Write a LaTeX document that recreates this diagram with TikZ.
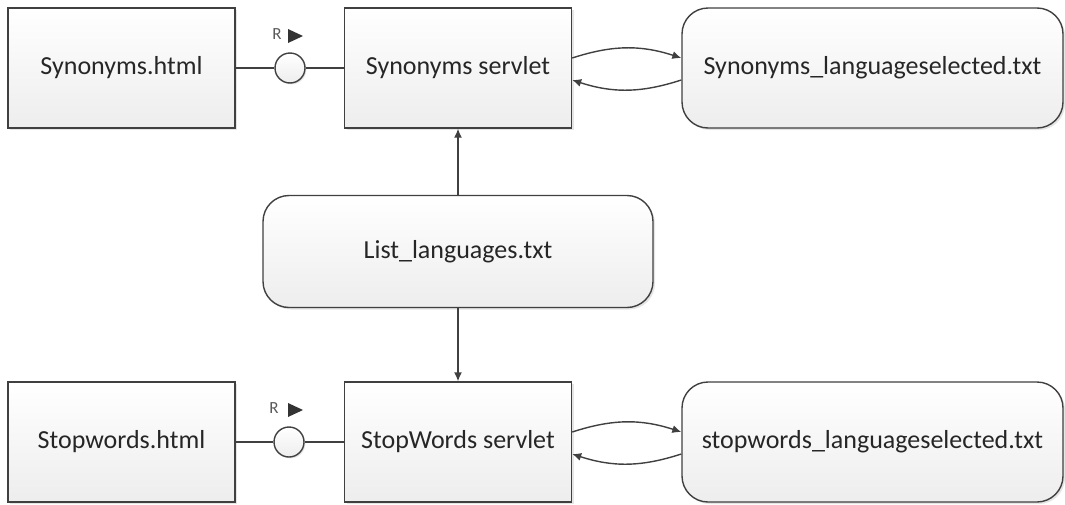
\documentclass[tikz,border=0pt]{standalone}
\usepackage{fontspec}
\setmainfont{Carlito}
\usetikzlibrary{positioning,arrows.meta,shadows}

\begin{document}
\begin{tikzpicture}[x=0.5pt,y=-0.5pt,
  >={Latex[length=4.5pt,width=4pt]},
  every node/.style={font=\fontsize{13}{15}\selectfont,text=black!85},
  box/.style={draw=black!75,line width=0.7pt,top color=white,bottom color=black!7,
    minimum width=113.5pt,minimum height=60pt,
    drop shadow={shadow xshift=1pt,shadow yshift=-1pt,opacity=0.25,fill=black!40}},
  store/.style={box,rounded corners=13pt,minimum width=190.5pt},
  iface/.style={circle,draw=black!75,line width=0.7pt,top color=white,bottom color=black!7,
    minimum size=15pt,inner sep=0pt,
    drop shadow={shadow xshift=0.7pt,shadow yshift=-0.7pt,opacity=0.25,fill=black!40}},
  link/.style={draw=black!75,line width=0.7pt},
  tag/.style={font=\fontsize{8.5}{9}\selectfont,text=black!65}]
  \useasboundingbox (0,0) rectangle (1065,504);
  % synonyms row
  \node[box] (synH) at (121.5,68) {Synonyms.html};
  \node[box] (synS) at (458,68) {Synonyms servlet};
  \node[store] (synT) at (872.5,68) {Synonyms\_languageselected.txt};
  \node[iface] (ifS) at (290,68) {};
  \node[tag] (rS) at (277,34) {R};
  \fill[black!80] (288,29) -- (303,36) -- (288,43) -- cycle;
  % languages list
  \node[store,minimum width=195pt,minimum height=56pt] (list) at (458,251.5) {List\_languages.txt};
  % stopwords row
  \node[box] (stwH) at (121.5,442) {Stopwords.html};
  \node[box] (stwS) at (458,442) {StopWords servlet};
  \node[store] (stwT) at (872.5,442) {stopwords\_languageselected.txt};
  \node[iface] (ifW) at (289,442) {};
  \node[tag] (rW) at (274,408) {R};
  \fill[black!80] (288,403) -- (303,410) -- (288,417) -- cycle;

  \draw[link] (synH) -- (ifS) -- (synS);
  \draw[link] (stwH) -- (ifW) -- (stwS);
  \draw[link,->] (list) -- (synS);
  \draw[link,->] (list) -- (stwS);
  \draw[link,->] ([yshift=5pt]synS.east) to[bend left=18] ([yshift=5pt]synT.west);
  \draw[link,->] ([yshift=-6pt]synT.west) to[bend left=18] ([yshift=-6pt]synS.east);
  \draw[link,->] ([yshift=5pt]stwS.east) to[bend left=18] ([yshift=5pt]stwT.west);
  \draw[link,->] ([yshift=-6pt]stwT.west) to[bend left=18] ([yshift=-6pt]stwS.east);
\end{tikzpicture}
\end{document}
